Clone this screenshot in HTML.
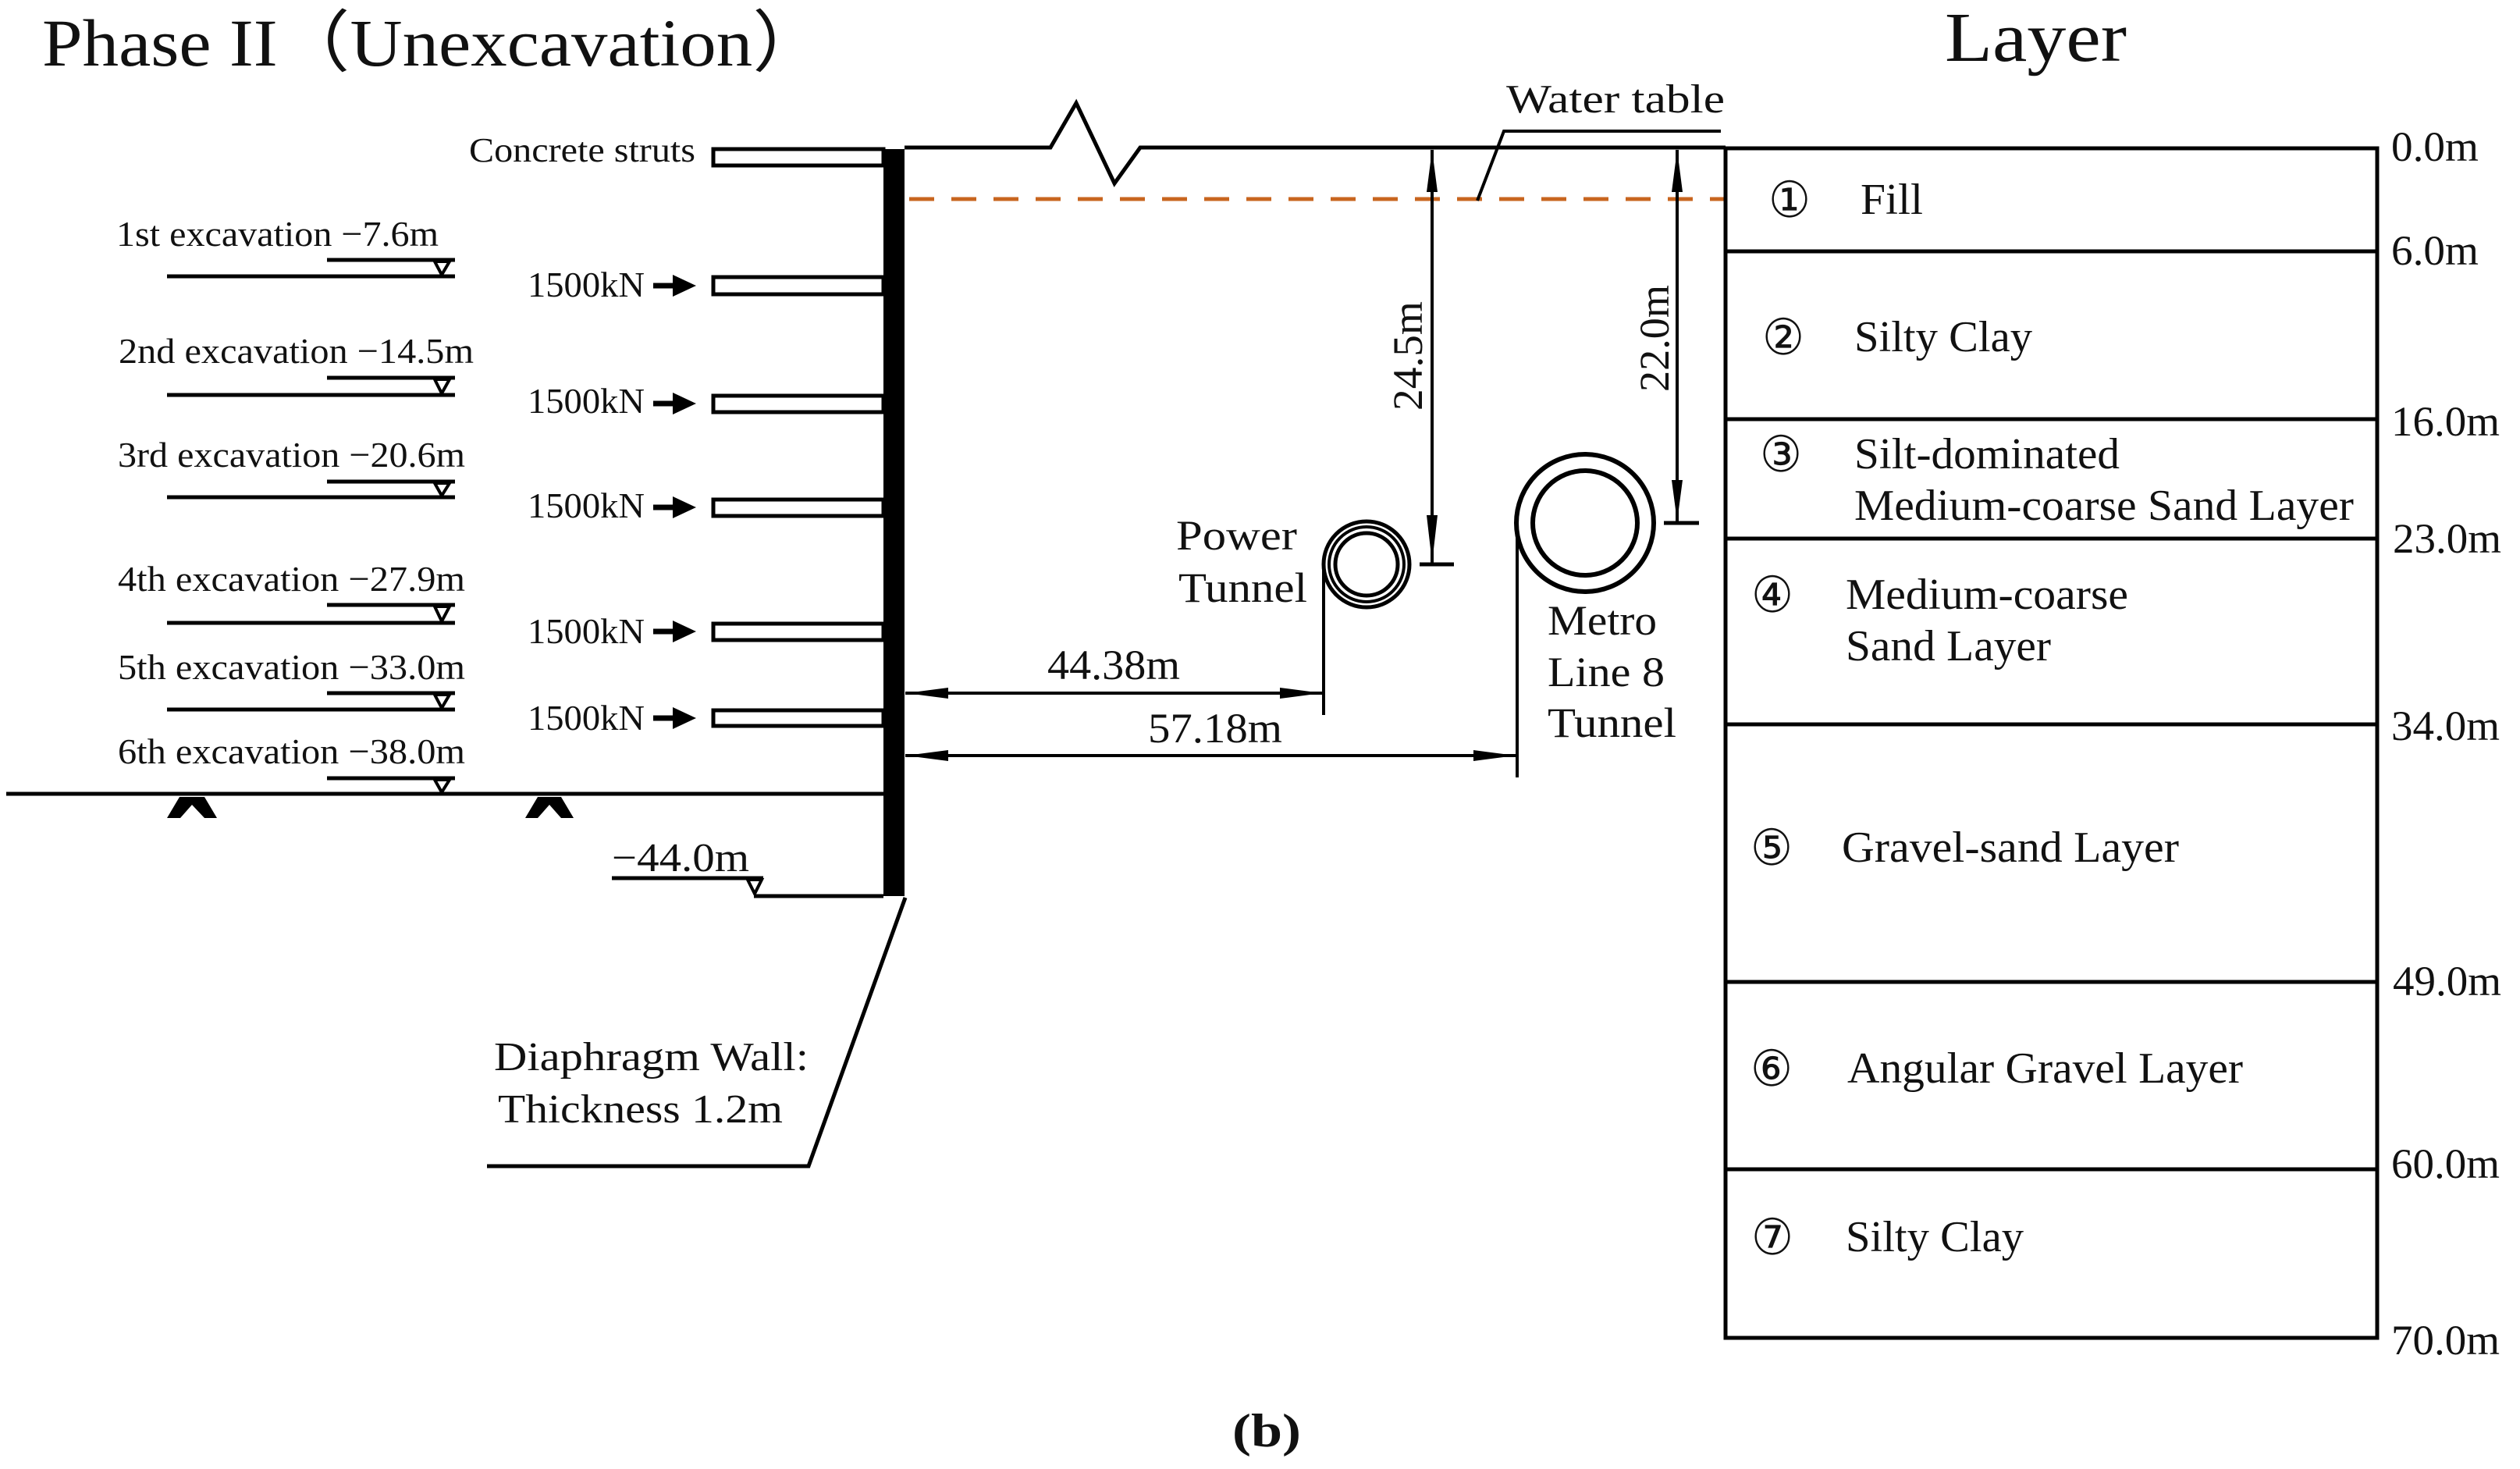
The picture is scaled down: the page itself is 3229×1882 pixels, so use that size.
<!DOCTYPE html>
<html><head><meta charset="utf-8"><style>
html,body{margin:0;padding:0;background:#fff;}
svg{display:block;}
text{font-family:"Liberation Serif",serif;fill:#111;}
</style></head><body>
<svg width="3229" height="1882" viewBox="0 0 3229 1882" xmlns="http://www.w3.org/2000/svg">
<g stroke="#000" stroke-width="5" fill="none">
<polyline points="1159,189 1346,189 1379,132 1428,235 1461,189 2211,189"/>
<line x1="1165" y1="255" x2="2211" y2="255" stroke="#c8651f" stroke-dasharray="32,22"/>
<polyline points="1893,257 1927,168 2205,168" stroke-width="4"/>
<rect x="1132" y="191" width="27" height="957" fill="#000" stroke="none"/>
<rect x="914" y="191" width="218" height="21"/>
<rect x="914" y="355" width="218" height="22"/>
<rect x="914" y="507" width="218" height="21"/>
<rect x="914" y="640" width="218" height="21"/>
<rect x="914" y="799" width="218" height="21"/>
<rect x="914" y="910" width="218" height="20"/>
<g stroke-width="7">
<line x1="837" y1="366" x2="868" y2="366"/>
<line x1="837" y1="517" x2="868" y2="517"/>
<line x1="837" y1="650" x2="868" y2="650"/>
<line x1="837" y1="809" x2="868" y2="809"/>
<line x1="837" y1="920" x2="868" y2="920"/>
</g>
<g stroke-width="5">
<line x1="214" y1="354" x2="583" y2="354"/><line x1="419" y1="333" x2="583" y2="333"/>
<line x1="214" y1="506" x2="583" y2="506"/><line x1="419" y1="484" x2="583" y2="484"/>
<line x1="214" y1="637" x2="583" y2="637"/><line x1="419" y1="617" x2="583" y2="617"/>
<line x1="214" y1="798" x2="583" y2="798"/><line x1="419" y1="775" x2="583" y2="775"/>
<line x1="214" y1="909" x2="583" y2="909"/><line x1="419" y1="888" x2="583" y2="888"/>
<line x1="419" y1="997" x2="583" y2="997"/>
<line x1="8" y1="1017" x2="1132" y2="1017"/>
</g>
<g stroke-width="4">
<polygon points="557,335 576,335 566,352"/>
<polygon points="557,486 576,486 566,504"/>
<polygon points="557,619 576,619 566,635"/>
<polygon points="557,777 576,777 566,796"/>
<polygon points="557,890 576,890 566,907"/>
<polygon points="557,999 576,999 566,1015"/>
</g>
<line x1="784" y1="1125" x2="978" y2="1125"/>
<polygon points="958,1127 976,1127 967,1145" stroke-width="4"/>
<polyline points="966,1148 1132,1148"/>
<polyline points="1160,1150 1036,1494 624,1494"/>
<line x1="1835" y1="192" x2="1835" y2="723" stroke-width="4"/>
<line x1="1819" y1="723" x2="1863" y2="723" stroke-width="5"/>
<line x1="2149" y1="192" x2="2149" y2="670" stroke-width="4"/>
<line x1="2132" y1="670" x2="2177" y2="670" stroke-width="5"/>
<circle cx="1751" cy="723" r="55" stroke-width="5"/>
<circle cx="1751" cy="723" r="48" stroke-width="4"/>
<circle cx="1751" cy="723" r="40" stroke-width="5"/>
<line x1="1696" y1="725" x2="1696" y2="916" stroke-width="4"/>
<circle cx="2031" cy="670" r="88" stroke-width="6"/>
<circle cx="2031" cy="670" r="67" stroke-width="6"/>
<line x1="1944" y1="670" x2="1944" y2="996" stroke-width="4"/>
<line x1="1160" y1="888" x2="1696" y2="888" stroke-width="4"/>
<line x1="1160" y1="968" x2="1944" y2="968" stroke-width="4"/>
<rect x="2211" y="190" width="835" height="1524"/>
<line x1="2211" y1="322" x2="3046" y2="322"/>
<line x1="2211" y1="537" x2="3046" y2="537"/>
<line x1="2211" y1="690" x2="3046" y2="690"/>
<line x1="2211" y1="928" x2="3046" y2="928"/>
<line x1="2211" y1="1258" x2="3046" y2="1258"/>
<line x1="2211" y1="1498" x2="3046" y2="1498"/>
</g>
<g fill="#000" stroke="none">
<polygon points="862,352 892,366 862,380"/>
<polygon points="862,503 892,517 862,531"/>
<polygon points="862,636 892,650 862,664"/>
<polygon points="862,795 892,809 862,823"/>
<polygon points="862,906 892,920 862,934"/>
<polygon points="214,1048 230,1021 262,1021 278,1048 262,1048 246,1031 231,1048"/>
<polygon points="673,1048 689,1021 719,1021 735,1048 719,1048 704,1031 689,1048"/>
<polygon points="1835,192 1828,246 1842,246"/>
<polygon points="1835,721 1828,660 1842,660"/>
<polygon points="2149,192 2142,246 2156,246"/>
<polygon points="2149,668 2142,615 2156,615"/>
<polygon points="1161,888 1215,881 1215,895"/>
<polygon points="1694,888 1640,881 1640,895"/>
<polygon points="1161,968 1215,961 1215,975"/>
<polygon points="1942,968 1888,961 1888,975"/>
</g>
<text x="54" y="84" font-size="86" textLength="1003" lengthAdjust="spacingAndGlyphs">Phase II（Unexcavation）</text>
<text x="2492" y="78" font-size="90" textLength="233" lengthAdjust="spacingAndGlyphs">Layer</text>
<text x="601" y="207" font-size="44" textLength="290" lengthAdjust="spacingAndGlyphs">Concrete struts</text>
<g font-size="46">
<text x="676" y="380" textLength="150" lengthAdjust="spacingAndGlyphs">1500kN</text>
<text x="676" y="529" textLength="150" lengthAdjust="spacingAndGlyphs">1500kN</text>
<text x="676" y="663" textLength="150" lengthAdjust="spacingAndGlyphs">1500kN</text>
<text x="676" y="824" textLength="150" lengthAdjust="spacingAndGlyphs">1500kN</text>
<text x="676" y="935" textLength="150" lengthAdjust="spacingAndGlyphs">1500kN</text>
<text x="149" y="315" textLength="413" lengthAdjust="spacingAndGlyphs">1st excavation −7.6m</text>
<text x="152" y="465" textLength="455" lengthAdjust="spacingAndGlyphs">2nd excavation −14.5m</text>
<text x="151" y="598" textLength="445" lengthAdjust="spacingAndGlyphs">3rd excavation −20.6m</text>
<text x="151" y="757" textLength="445" lengthAdjust="spacingAndGlyphs">4th excavation −27.9m</text>
<text x="151" y="870" textLength="445" lengthAdjust="spacingAndGlyphs">5th excavation −33.0m</text>
<text x="151" y="978" textLength="445" lengthAdjust="spacingAndGlyphs">6th excavation −38.0m</text>
</g>
<text x="784" y="1116" font-size="52" textLength="176" lengthAdjust="spacingAndGlyphs">−44.0m</text>
<text x="633" y="1371" font-size="52" textLength="403" lengthAdjust="spacingAndGlyphs">Diaphragm Wall:</text>
<text x="638" y="1438" font-size="52" textLength="365" lengthAdjust="spacingAndGlyphs">Thickness 1.2m</text>
<text x="1930" y="144" font-size="52" textLength="280" lengthAdjust="spacingAndGlyphs">Water table</text>
<g font-size="54">
<text x="1507" y="704" textLength="155" lengthAdjust="spacingAndGlyphs">Power</text>
<text x="1510" y="771" textLength="165" lengthAdjust="spacingAndGlyphs">Tunnel</text>
<text x="1983" y="813" textLength="140" lengthAdjust="spacingAndGlyphs">Metro</text>
<text x="1983" y="879" textLength="150" lengthAdjust="spacingAndGlyphs">Line 8</text>
<text x="1983" y="944" textLength="165" lengthAdjust="spacingAndGlyphs">Tunnel</text>
<text x="1342" y="870" textLength="170" lengthAdjust="spacingAndGlyphs">44.38m</text>
<text x="1471" y="951" textLength="172" lengthAdjust="spacingAndGlyphs">57.18m</text>
<text transform="translate(1822,526) rotate(-90)" textLength="140" lengthAdjust="spacingAndGlyphs">24.5m</text>
<text transform="translate(2138,502) rotate(-90)" textLength="137" lengthAdjust="spacingAndGlyphs">22.0m</text>
</g>
<g font-size="54">
<text x="3064" y="206" textLength="112" lengthAdjust="spacingAndGlyphs">0.0m</text>
<text x="3064" y="339" textLength="112" lengthAdjust="spacingAndGlyphs">6.0m</text>
<text x="3064" y="558" textLength="139" lengthAdjust="spacingAndGlyphs">16.0m</text>
<text x="3066" y="708" textLength="139" lengthAdjust="spacingAndGlyphs">23.0m</text>
<text x="3064" y="948" textLength="139" lengthAdjust="spacingAndGlyphs">34.0m</text>
<text x="3066" y="1275" textLength="139" lengthAdjust="spacingAndGlyphs">49.0m</text>
<text x="3064" y="1509" textLength="139" lengthAdjust="spacingAndGlyphs">60.0m</text>
<text x="3064" y="1735" textLength="139" lengthAdjust="spacingAndGlyphs">70.0m</text>
</g>
<g font-size="56">
<g font-family="DejaVu Sans" font-size="64">
<text x="2266" y="278" textLength="54" lengthAdjust="spacingAndGlyphs">①</text>
<text x="2258" y="454" textLength="54" lengthAdjust="spacingAndGlyphs">②</text>
<text x="2255" y="604" textLength="54" lengthAdjust="spacingAndGlyphs">③</text>
<text x="2244" y="784" textLength="54" lengthAdjust="spacingAndGlyphs">④</text>
<text x="2243" y="1108" textLength="54" lengthAdjust="spacingAndGlyphs">⑤</text>
<text x="2243" y="1391" textLength="54" lengthAdjust="spacingAndGlyphs">⑥</text>
<text x="2244" y="1607" textLength="54" lengthAdjust="spacingAndGlyphs">⑦</text>
</g>
<text x="2384" y="274" textLength="80" lengthAdjust="spacingAndGlyphs">Fill</text>
<text x="2376" y="450" textLength="228" lengthAdjust="spacingAndGlyphs">Silty Clay</text>
<text x="2376" y="600" textLength="340" lengthAdjust="spacingAndGlyphs">Silt-dominated</text>
<text x="2376" y="666" textLength="640" lengthAdjust="spacingAndGlyphs">Medium-coarse Sand Layer</text>
<text x="2365" y="780" textLength="362" lengthAdjust="spacingAndGlyphs">Medium-coarse</text>
<text x="2365" y="846" textLength="263" lengthAdjust="spacingAndGlyphs">Sand Layer</text>
<text x="2360" y="1104" textLength="432" lengthAdjust="spacingAndGlyphs">Gravel-sand Layer</text>
<text x="2367" y="1387" textLength="507" lengthAdjust="spacingAndGlyphs">Angular Gravel Layer</text>
<text x="2365" y="1603" textLength="228" lengthAdjust="spacingAndGlyphs">Silty Clay</text>
</g>
<text x="1579" y="1853" font-size="60" font-weight="bold" textLength="88" lengthAdjust="spacingAndGlyphs">(b)</text>
</svg>
</body></html>
